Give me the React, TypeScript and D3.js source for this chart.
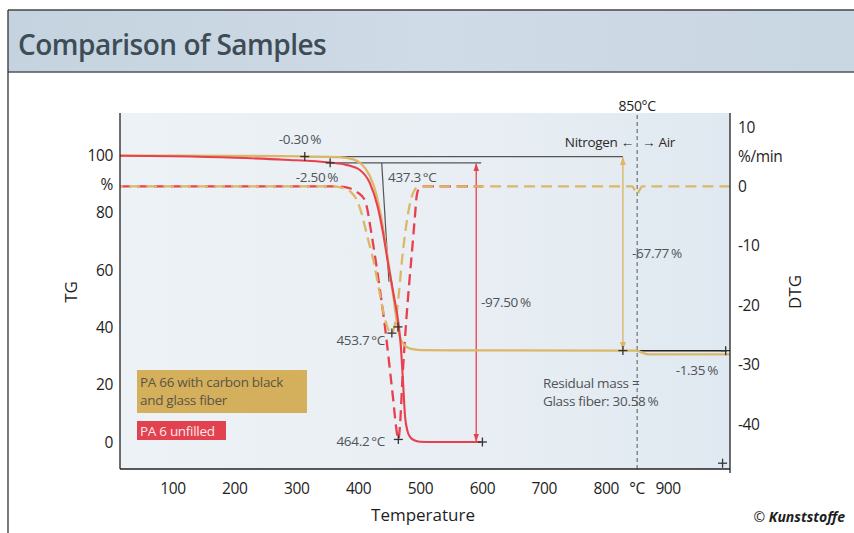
import React from "react";
import * as d3 from "d3";

// ---------- data ----------
const xTickValues = [100, 200, 300, 400, 500, 600, 700, 800, 900];
const xUnitAt = 850;
const tgTickValues = [0, 20, 40, 60, 80, 100];
const dtgTickValues = [10, 0, -10, -20, -30, -40];

// TG curves: [temperature °C, mass %]
const tgPA66: [number, number][] = [
  [14.5, 100], [200, 99.95], [313, 99.75], [370, 99.5], [390, 98.8], [405, 97], [418, 93],
  [428, 87], [436, 79], [443, 70], [450, 60], [456, 51], [461, 43], [465, 38], [470, 35],
  [477, 33.3], [485, 32.5], [500, 32.1], [600, 32], [827, 31.93], [848, 31.9], [855, 31.5],
  [862, 30.9], [870, 30.62], [1000, 30.58],
];
const tgPA6: [number, number][] = [
  [14.5, 100], [100, 99.8], [200, 99.3], [280, 98.6], [354, 97.6], [380, 96.8], [402, 95],
  [418, 90.5], [431, 82], [439.5, 73], [447.5, 62.5], [457, 51], [464, 42], [468, 34],
  [471.5, 22], [475, 9], [479, 3.8], [483, 1.8], [490, 0.6], [499, 0.1], [520, 0], [598, 0],
];
// DTG curves: [temperature °C, %/min]
const dtgPA66: [number, number][] = [
  [14.5, 0], [360, 0], [375, -0.3], [388, -1], [398, -2.5], [406, -5], [413, -8], [425, -13],
  [435, -18.5], [443, -22.5], [449, -24.3], [453.7, -24.8], [458, -23.5], [462, -21],
  [466, -17], [470, -12.5], [475, -8], [480, -4.5], [485, -2], [490, -0.7], [496, -0.1],
  [505, 0], [842, 0], [846, -0.6], [850, -1.3], [854, -0.6], [858, 0], [1000, 0],
];
const dtgPA6: [number, number][] = [
  [14.5, 0], [365, 0], [385, -0.3], [398, -1], [410, -2.3], [421.6, -8.5], [429.7, -14],
  [436, -18.5], [443, -24], [450.7, -31], [456, -36], [460, -40], [464.2, -42.6],
  [467, -40], [471, -32], [476, -24], [482, -16], [487, -10], [491, -5], [494, -1.5],
  [498, -0.3], [505, 0], [600, 0],
];

// markers: [temperature, value, axis]
const crossMarks: [number, number, "tg" | "dtg"][] = [
  [313, 99.7, "tg"], [354, 97.5, "tg"], [453.7, -24.7, "dtg"], [463.6, 40.2, "tg"],
  [464.2, -42.6, "dtg"], [600, 0, "tg"], [827, 31.93, "tg"], [993, 31.9, "tg"], [988, -46.6, "dtg"],
];

const GOLD = "#dcb767";
const RED = "#e8404d";
const GREY_TXT = "#4f5358";
const FONT = "'Open Sans', 'Noto Sans', sans-serif";

export default function App() {
  const x = d3.scaleLinear().domain([14.5, 1000]).range([120, 730]);
  const yTG = d3.scaleLinear().domain([0, 100]).range([442, 155.7]);
  const yDTG = d3.scaleLinear().domain([0, 10]).range([186.4, 127]);
  const plotTop = 113, plotBottom = 469, plotLeft = 120, plotRight = 730;

  const lineTG = d3.line<[number, number]>().x((d) => x(d[0])).y((d) => yTG(d[1])).curve(d3.curveMonotoneX);
  const lineDTG = d3.line<[number, number]>().x((d) => x(d[0])).y((d) => yDTG(d[1])).curve(d3.curveMonotoneX);

  const cross = (cx: number, cy: number, k: number) => (
    <g key={k} stroke="#333" strokeWidth={1.3}>
      <line x1={cx - 4.5} x2={cx + 4.5} y1={cy} y2={cy} />
      <line x1={cx} x2={cx} y1={cy - 4.5} y2={cy + 4.5} />
    </g>
  );

  const txt = { fontFamily: FONT, fontSize: 13.5, fill: GREY_TXT, letterSpacing: -0.3 } as const;
  const tick = { fontFamily: FONT, fontSize: 15.5, fill: "#1e1e1e", letterSpacing: -0.4 } as const;

  return (
    <svg width={854} height={533} style={{ position: "absolute", left: 0, top: 0 }}>
      <defs>
        <linearGradient id="band" x1="0" x2="1" y1="0" y2="0">
          <stop offset="0" stopColor="#c4d3df" />
          <stop offset="0.5" stopColor="#cfdbe6" />
          <stop offset="1" stopColor="#c9d7e3" />
        </linearGradient>
        <linearGradient id="plotbg" x1="0" x2="1" y1="0" y2="0">
          <stop offset="0" stopColor="#edf2f6" />
          <stop offset="0.6" stopColor="#e8eef3" />
          <stop offset="1" stopColor="#e0e9f1" />
        </linearGradient>
        <marker id="arR" viewBox="0 0 10 10" refX="9" refY="5" markerWidth="6" markerHeight="6" orient="auto-start-reverse">
          <path d="M0,1.5 L10,5 L0,8.5 z" fill={RED} />
        </marker>
        <marker id="arG" viewBox="0 0 10 10" refX="9" refY="5" markerWidth="6" markerHeight="6" orient="auto-start-reverse">
          <path d="M0,1.5 L10,5 L0,8.5 z" fill={GOLD} />
        </marker>
      </defs>
      <rect x={0} y={0} width={854} height={533} fill="#ffffff" />
      {/* title band */}
      <rect x={8} y={10} width={846} height={62} fill="url(#band)" />
      <line x1={8} x2={854} y1={10} y2={10} stroke="#444" strokeWidth={1.5} />
      <line x1={8} x2={854} y1={72} y2={72} stroke="#555" strokeWidth={1.5} />
      <line x1={8} x2={8} y1={10} y2={533} stroke="#333" strokeWidth={1.3} />
      <text x={18} y={55} fontFamily={FONT} fontSize={28} fontWeight={600} fill="#3e4c56" letterSpacing={-0.5}>
        Comparison of Samples
      </text>

      {/* plot area */}
      <rect x={plotLeft} y={plotTop} width={plotRight - plotLeft} height={plotBottom - plotTop} fill="url(#plotbg)" />

      {/* 850 °C divider */}
      <line x1={x(850)} x2={x(850)} y1={plotTop + 2} y2={plotBottom} stroke="#666" strokeWidth={1.1} strokeDasharray="4 3" />

      {/* reference lines */}
      <line x1={x(313)} x2={x(827)} y1={yTG(99.7)} y2={yTG(99.7)} stroke="#555" strokeWidth={1.2} />
      <line x1={x(354)} x2={x(598)} y1={yTG(97.5)} y2={yTG(97.5)} stroke="#555" strokeWidth={1.2} />
      <line x1={x(437.3)} x2={x(449)} y1={yTG(97.5)} y2={yTG(56)} stroke="#555" strokeWidth={1.2} />
      <line x1={x(854)} x2={x(995)} y1={yTG(31.85)} y2={yTG(31.85)} stroke="#222" strokeWidth={1.4} />

      {/* arrows */}
      <line x1={x(590)} x2={x(590)} y1={yTG(97.5) + 1} y2={yTG(0) - 1} stroke={RED} strokeWidth={1.3}
        markerStart="url(#arR)" markerEnd="url(#arR)" />
      <line x1={x(827)} x2={x(827)} y1={yTG(99.7) + 1} y2={yTG(31.93) - 1} stroke={GOLD} strokeWidth={1.4}
        markerStart="url(#arG)" markerEnd="url(#arG)" />

      {/* DTG dashed curves */}
      <path d={lineDTG(dtgPA6) ?? ""} fill="none" stroke={RED} strokeWidth={2.3} strokeDasharray="11 6" />
      <path d={lineDTG(dtgPA66) ?? ""} fill="none" stroke={GOLD} strokeWidth={2.3} strokeDasharray="11 6" strokeDashoffset={8} />

      {/* TG solid curves */}
      <path d={lineTG(tgPA66) ?? ""} fill="none" stroke={GOLD} strokeWidth={2.3} />
      <path d={lineTG(tgPA6) ?? ""} fill="none" stroke={RED} strokeWidth={2.1} />

      {/* cross markers */}
      {crossMarks.map((m, i) => cross(x(m[0]), m[2] === "tg" ? yTG(m[1]) : yDTG(m[1]), i))}

      {/* axes */}
      <line x1={plotLeft} x2={plotLeft} y1={plotTop} y2={plotBottom} stroke="#222" strokeWidth={1.3} />
      <line x1={plotRight} x2={plotRight} y1={plotTop} y2={plotBottom + 4} stroke="#222" strokeWidth={1.3} />
      <line x1={plotLeft} x2={plotRight} y1={plotBottom} y2={plotBottom} stroke="#222" strokeWidth={1.3} />

      {tgTickValues.map((v) => (
        <text key={"l" + v} x={113} y={yTG(v) + 5.5} textAnchor="end" {...tick}>{v}</text>
      ))}
      <text x={113} y={yTG(90) + 5.5} textAnchor="end" {...tick}>%</text>
      {dtgTickValues.map((v) => (
        <text key={"r" + v} x={738} y={yDTG(v) + 5.5} {...tick}>{v}</text>
      ))}
      <text x={738} y={yDTG(5) + 5.5} {...tick}>%/min</text>
      {xTickValues.map((v) => (
        <text key={"x" + v} x={x(v)} y={494} textAnchor="middle" {...tick}>{v}</text>
      ))}
      <text x={x(xUnitAt)} y={494} textAnchor="middle" {...tick}>°C</text>

      <text x={423} y={521} textAnchor="middle" fontFamily={FONT} fontSize={17} fill="#1e1e1e">Temperature</text>
      <text transform="translate(77,292) rotate(-90)" textAnchor="middle" fontFamily={FONT} fontSize={17} fill="#1e1e1e">TG</text>
      <text transform="translate(801,292) rotate(-90)" textAnchor="middle" fontFamily={FONT} fontSize={17} fill="#1e1e1e">DTG</text>

      {/* annotations */}
      <text x={300} y={144} textAnchor="middle" {...txt}>-0.30&#8201;%</text>
      <text x={317} y={182} textAnchor="middle" {...txt}>-2.50&#8201;%</text>
      <text x={388} y={182} {...txt}>437.3&#8201;°C</text>
      <text x={481} y={307} {...txt}>-97.50&#8201;%</text>
      <text x={385} y={345} textAnchor="end" {...txt}>453.7&#8201;°C</text>
      <text x={385} y={446} textAnchor="end" {...txt}>464.2&#8201;°C</text>
      <text x={632} y={258} {...txt}>-67.77&#8201;%</text>
      <text x={718} y={375} textAnchor="end" {...txt}>-1.35&#8201;%</text>
      <text x={543} y={388} {...txt}>Residual mass =</text>
      <text x={543} y={406} {...txt}>Glass fiber: 30.58&#8201;%</text>
      <text x={634} y={147} textAnchor="end" {...txt} fill="#2a2a2a">Nitrogen ←</text>
      <text x={642} y={147} {...txt} fill="#2a2a2a">→ Air</text>
      <text x={x(850)} y={111} textAnchor="middle" {...txt} fontSize={14} fill="#1e1e1e">850°C</text>

      {/* legend */}
      <rect x={137} y={370} width={170} height={43} fill="#d5b05c" />
      <text x={140} y={387} fontFamily={FONT} fontSize={13.5} fill="#5b5445" letterSpacing={-0.3}>PA 66 with carbon black</text>
      <text x={140} y={405} fontFamily={FONT} fontSize={13.5} fill="#5b5445" letterSpacing={-0.3}>and glass fiber</text>
      <rect x={137} y={421} width={89} height={19} fill="#e2424f" />
      <text x={140} y={436} fontFamily={FONT} fontSize={13.5} fill="#fde6e8" letterSpacing={-0.3}>PA 6 unfilled</text>

      {/* credit */}
      <text x={845} y={522} textAnchor="end" fontFamily={FONT} fontSize={14} fill="#1e1e1e">
        © <tspan fontWeight={700} fontStyle="italic">Kunststoffe</tspan>
      </text>
    </svg>
  );
}
